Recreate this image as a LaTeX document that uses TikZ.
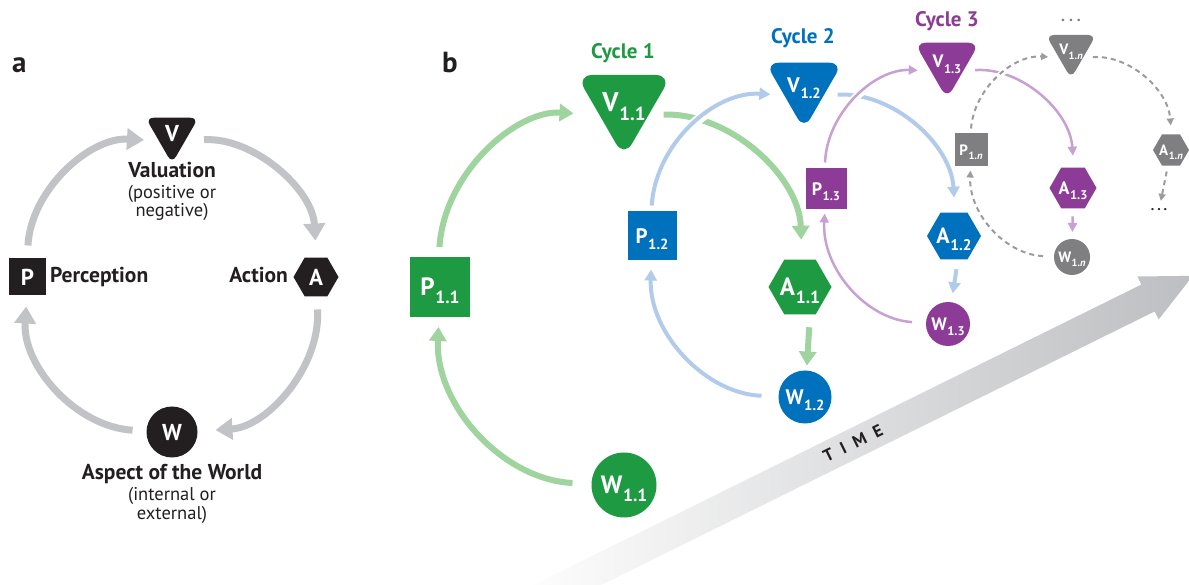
\documentclass[tikz,border=0pt]{standalone}
\usepackage{fontspec}
\setmainfont{PT Sans}
\usepackage{graphicx}
\usetikzlibrary{shapes.geometric,arrows.meta}
\pgfdeclarelayer{bg}
\pgfdeclarelayer{arr}
\pgfsetlayers{bg,arr,main}
\definecolor{ink}{HTML}{231F20}
\definecolor{agray}{HTML}{C2C3C6}
\definecolor{gN}{HTML}{1E9A43}
\definecolor{gL}{HTML}{9FD49E}
\definecolor{bN}{HTML}{0071BC}
\definecolor{bL}{HTML}{B3CBEA}
\definecolor{pN}{HTML}{8C3B96}
\definecolor{pL}{HTML}{C7A1D1}
\definecolor{nN}{HTML}{7F7F82}
\definecolor{nL}{HTML}{9C9C9F}
\definecolor{tgray}{HTML}{BDBEC1}
\newcommand\ntx[2]{\smash{\makebox[0pt]{\raisebox{-.35em}{#1\kern.03em\raisebox{-.3em}{\scalebox{.7}{#2}}}}}}
\newcommand\nsg[1]{\smash{\makebox[0pt]{\raisebox{-.35em}{#1}}}}
\newcommand\fs[1]{\fontsize{#1}{#1}\selectfont}
\tikzset{
 shp/.style={inner sep=0pt, outer sep=0pt, text=white},
 fz/.style={font=\fs{#1}\bfseries},
 tri/.style={shp, regular polygon, regular polygon sides=3, shape border rotate=180},
 hex/.style={shp, regular polygon, regular polygon sides=6},
 sq/.style={shp, rectangle},
 ci/.style={shp, circle},
 lab/.style={inner sep=0pt, text=ink, font=\fs{21.5}\bfseries},
 sublab/.style={inner sep=0pt, text=ink, font=\fs{18.5}},
 cyc/.style={inner sep=0pt, font=\fs{21}\bfseries},
 halo/.style={preaction={draw=white, line width=#1, solid, -}},
 arrA/.style={draw=agray, line width=7pt, -{Triangle[width=21pt,length=17pt]}},
 arrG/.style={draw=gL, line width=6pt, -{Triangle[width=17pt,length=14pt]}},
 arrB/.style={draw=bL, line width=4pt, -{Triangle[width=12pt,length=11pt]}, halo=10pt},
 arrP/.style={draw=pL, line width=2.5pt, -{Triangle[width=9pt,length=9pt]}, halo=8pt},
 arrN/.style={draw=nL, line width=2pt, dash pattern=on 5pt off 4pt, -{Triangle[width=7pt,length=7pt]}, halo=6pt},
}
\begin{document}
\begin{tikzpicture}[x=1pt,y=1pt]
\useasboundingbox (0,0) rectangle (1189,584);
\begin{pgfonlayer}{bg}
\fill[white] (0,0) rectangle (1189,584);
% TIME arrow
\begin{scope}
\clip (0,0) rectangle (1189,584);
\begin{scope}[shift={(1148,286)}, rotate=26.3]
\shade[left color=white, right color=tgray, draw=none]
  (-700,-15) -- (0,-15) -- (0,-24) -- (50,0) -- (0,24) -- (0,15) -- (-700,15) -- cycle;
\end{scope}
\end{scope}
\end{pgfonlayer}
\node[rotate=26.3, inner sep=0pt, text=ink, font=\fs{17}\bfseries] (time) at (853,141) {T\hspace{9pt}I\hspace{9pt}M\hspace{9pt}E};

% panel labels
\node[anchor=base west, inner sep=0pt, text=ink, font=\fs{29}\bfseries] (la) at (12,511) {a};
\node[anchor=base west, inner sep=0pt, text=ink, font=\fs{29}\bfseries] (lb) at (442,511) {b};

% ---------- panel a nodes
\node[tri, fill=ink, minimum size=61pt, rounded corners=8pt, fz=23] (Va) at (172,451) {\nsg{V}};
\node[sq, fill=ink, minimum size=37pt, fz=23] (Pa) at (27.5,307) {\nsg{P}};
\node[hex, fill=ink, minimum size=45pt, fz=23] (Aa) at (316,307) {\nsg{A}};
\node[ci, fill=ink, minimum size=51pt, fz=23] (Wa) at (172,152) {\nsg{W}};

\node[lab, anchor=base] (tVal) at (172,406) {Valuation};
\node[sublab, anchor=base] (tVal2) at (172,385) {(positive or};
\node[sublab, anchor=base] (tVal3) at (172,367) {negative)};
\node[lab, anchor=base west] (tPer) at (50,301) {Perception};
\node[lab, anchor=base east] (tAct) at (288,301) {Action};
\node[lab, anchor=base] (tW) at (172,104) {Aspect of the World};
\node[sublab, anchor=base] (tW2) at (172,83) {(internal or};
\node[sublab, anchor=base] (tW3) at (172,65) {external)};

% ---------- panel b nodes
% cycle 1
\node[tri, fill=gN, minimum size=110pt, rounded corners=16pt, fz=27] (V11) at (624,481.5) {\ntx{V}{1.1}};
\node[sq, fill=gN, minimum size=60pt, fz=25] (P11) at (440,297) {\ntx{P}{1.1}};
\node[hex, fill=gN, minimum size=63pt, fz=25] (A11) at (800,297) {\ntx{A}{1.1}};
\node[ci, fill=gN, minimum size=65pt, fz=25] (W11) at (624,99) {\ntx{W}{1.1}};
% cycle 2
\node[tri, fill=bN, minimum size=89pt, rounded corners=13pt, fz=21] (V12) at (804,499) {\ntx{V}{1.2}};
\node[sq, fill=bN, minimum size=49pt, fz=21] (P12) at (652,348) {\ntx{P}{1.2}};
\node[hex, fill=bN, minimum size=54pt, fz=22] (A12) at (954,348) {\ntx{A}{1.2}};
\node[ci, fill=bN, minimum size=53pt, fz=21] (W12) at (805,187) {\ntx{W}{1.2}};
% cycle 3
\node[tri, fill=pN, minimum size=75pt, rounded corners=11pt, fz=18] (V13) at (947,522.5) {\ntx{V}{1.3}};
\node[sq, fill=pN, minimum size=41pt, fz=18] (P13) at (826,395) {\ntx{P}{1.3}};
\node[hex, fill=pN, minimum size=47pt, fz=18] (A13) at (1073,396) {\ntx{A}{1.3}};
\node[ci, fill=pN, minimum size=44pt, fz=18] (W13) at (948,260) {\ntx{W}{1.3}};
% cycle n
\node[tri, fill=nN, minimum size=58pt, rounded corners=8pt, fz=15] (V1n) at (1071,534.5) {\ntx{V}{1.\textit{n}}};
\node[sq, fill=nN, minimum size=33pt, fz=15] (P1n) at (971,434) {\ntx{P}{1.\textit{n}}};
\node[hex, fill=nN, minimum size=36pt, fz=15] (A1n) at (1171,434) {\ntx{A}{1.\textit{n}}};
\node[ci, fill=nN, minimum size=36pt, fz=15] (W1n) at (1072,327) {\ntx{W}{1.\textit{n}}};
\node[inner sep=0pt, text=nN, font=\fs{16}\bfseries] (dotsA) at (1071,564) {.\hspace{4pt}.\hspace{4pt}.};
\node[inner sep=0pt, text=ink, font=\fs{14}\bfseries] (dotsB) at (1159,374) {.\hspace{3pt}.\hspace{3pt}.};

% cycle labels
\node[cyc, text=gN] (c1) at (623,531) {Cycle 1};
\node[cyc, text=bN] (c2) at (803,546) {Cycle 2};
\node[cyc, text=pN] (c3) at (947,563) {Cycle 3};

% ---------- arrows
\begin{pgfonlayer}{arr}
% panel a
\draw[arrA, shorten <=13pt, shorten >=15pt] (Pa) to[bend left=45] (Va.211);
\draw[arrA, shorten <=19pt, shorten >=17pt] (Va.-31) to[bend left=45] (Aa);
\draw[arrA, shorten <=13pt, shorten >=18pt] (Aa) to[bend left=45] (Wa);
\draw[arrA, shorten <=14pt, shorten >=11pt] (Wa) to[bend left=45] (Pa);
% cycle 1
\draw[arrG, shorten <=10pt, shorten >=26pt] (P11) to[bend left=45] (V11.207);
\draw[arrG, shorten <=15pt, shorten >=20pt] (V11.-27) to[bend left=45] (A11);
\draw[arrG, shorten <=13pt, shorten >=5pt] ([xshift=10pt]A11.south) -- (W12);
\draw[arrG, shorten <=19pt, shorten >=10pt] (W11) to[bend left=45] (P11);
% cycle 2
\draw[arrB, shorten <=6pt, shorten >=14pt] (P12) to[bend left=45] (V12.208);
\draw[arrB, shorten <=14pt, shorten >=15pt] (V12.-28) to[bend left=45] (A12);
\draw[arrB, shorten <=10pt, shorten >=9pt] ([xshift=4pt]A12.south) -- (W13);
\draw[arrB, shorten <=17pt, shorten >=9pt] (W12) to[bend left=45] (P12);
% cycle 3
\draw[arrP, shorten <=6pt, shorten >=13pt] (P13) to[bend left=45] (V13.210);
\draw[arrP, shorten <=12pt, shorten >=12pt] (V13.-30) to[bend left=45] (A13);
\draw[arrP, shorten <=8pt, shorten >=7pt] (A13) -- (W1n);
\draw[arrP, shorten <=14pt, shorten >=4pt] (W13) to[bend left=45] (P13);
% cycle n
\draw[arrN, shorten <=5pt, shorten >=11pt] (P1n) to[bend left=45] (V1n.215);
\draw[arrN, shorten <=10pt, shorten >=9pt] (V1n.-35) to[bend left=45] (A1n);
\draw[arrN, shorten <=6pt, shorten >=8pt] (A1n) -- (dotsB);
\draw[arrN, shorten <=11pt, shorten >=4pt] (W1n) to[bend left=45] (P1n);
\end{pgfonlayer}
\end{tikzpicture}
\end{document}
